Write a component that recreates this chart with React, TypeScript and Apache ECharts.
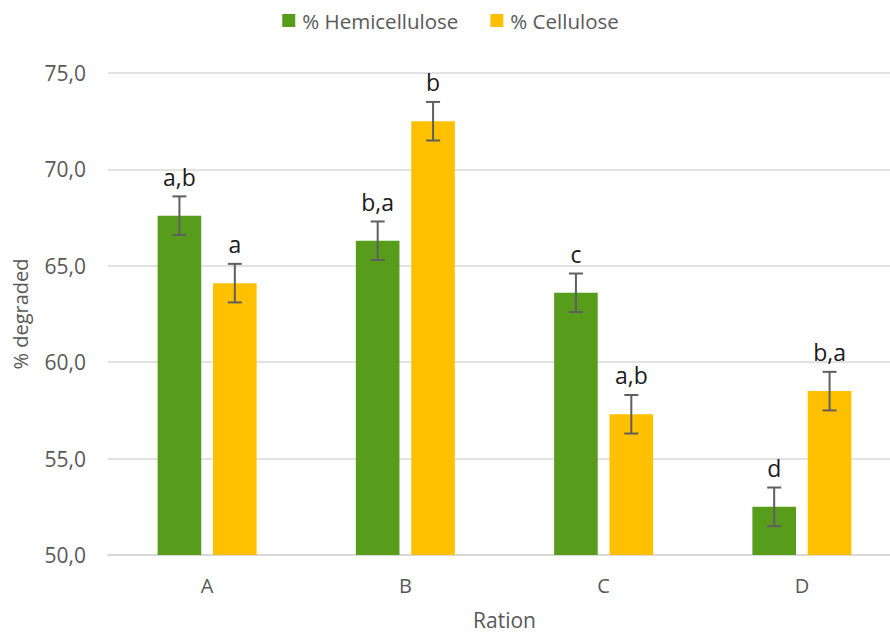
import React, { useEffect, useRef } from "react";
import * as echarts from "echarts";

const categories = ["A", "B", "C", "D"];
const hemicellulose = [67.6, 66.3, 63.6, 52.5];
const cellulose = [64.1, 72.5, 57.3, 58.5];
const hemiErr = [1.0, 1.0, 1.0, 1.0];
const cellErr = [1.0, 1.0, 1.0, 1.0];
const hemiLabels = ["a,b", "b,a", "c", "d"];
const cellLabels = ["a", "b", "a,b", "b,a"];
const seriesNames = ["% Hemicellulose", "% Cellulose"];

const GREEN = "#589c1c";
const YELLOW = "#ffc000";
const FONT = "'Open Sans', 'Noto Sans', sans-serif";
const BAR_FRAC = 0.22;
const GAP_FRAC = 0.27;

function errorSeries(values: number[], errs: number[], labels: string[], sign: number) {
  return {
    type: "custom",
    silent: true,
    z: 5,
    encode: { x: 0, y: 1 },
    data: values.map((v, i) => [i, v, errs[i]]),
    renderItem: (params: any, api: any) => {
      const xi = api.value(0);
      const v = api.value(1);
      const e = api.value(2);
      const band = api.size([1, 0])[0];
      const off = (sign * band * BAR_FRAC * (1 + GAP_FRAC)) / 2;
      const top = api.coord([xi, v + e]);
      const bot = api.coord([xi, v - e]);
      const cx = top[0] + off;
      const cap = 7;
      const ls = { stroke: "#5f5f5f", lineWidth: 2 };
      return {
        type: "group",
        children: [
          { type: "line", shape: { x1: cx, y1: top[1], x2: cx, y2: bot[1] }, style: ls },
          { type: "line", shape: { x1: cx - cap, y1: top[1], x2: cx + cap, y2: top[1] }, style: ls },
          { type: "line", shape: { x1: cx - cap, y1: bot[1], x2: cx + cap, y2: bot[1] }, style: ls },
          {
            type: "text",
            x: cx,
            y: top[1] - 8,
            style: {
              text: labels[params.dataIndex],
              textAlign: "center",
              textVerticalAlign: "bottom",
              fontSize: 23,
              fontFamily: FONT,
              fill: "#1a1a1a",
            },
          },
        ],
      };
    },
  };
}

export default function App() {
  const ref = useRef<HTMLDivElement>(null);
  useEffect(() => {
    if (!ref.current) return;
    const chart = echarts.init(ref.current, undefined, { renderer: "svg" });
    chart.setOption({
      animation: false,
      backgroundColor: "#ffffff",
      textStyle: { fontFamily: FONT },
      legend: {
        top: 5,
        left: "center",
        itemWidth: 13,
        itemHeight: 13,
        itemGap: 32,
        icon: "rect",
        textStyle: { fontSize: 20.5, color: "#595959", fontFamily: FONT, padding: [0, 0, 0, 2] },
        data: seriesNames,
      },
      grid: { left: 108, right: 0, top: 73, bottom: 82, containLabel: false, outerBoundsMode: "none" },
      xAxis: {
        type: "category",
        data: categories,
        axisLine: { lineStyle: { color: "#d9d9d9", width: 2 } },
        axisTick: { show: false },
        axisLabel: { color: "#595959", fontSize: 20, margin: 20, fontFamily: FONT },
        name: "Ration",
        nameLocation: "middle",
        nameGap: 54,
        nameTextStyle: { color: "#595959", fontSize: 21, fontFamily: FONT },
      },
      yAxis: {
        type: "value",
        min: 50,
        max: 75,
        interval: 5,
        axisLine: { show: false },
        axisTick: { show: false },
        splitLine: { lineStyle: { color: "#d9d9d9", width: 1.5 } },
        axisLabel: {
          color: "#595959",
          fontSize: 21,
          margin: 22,
          fontFamily: FONT,
          formatter: (v: number) => v.toFixed(1).replace(".", ","),
        },
        name: "% degraded",
        nameLocation: "middle",
        nameGap: 78,
        nameTextStyle: { color: "#595959", fontSize: 20, fontFamily: FONT },
      },
      series: [
        {
          name: seriesNames[0],
          type: "bar",
          data: hemicellulose,
          barWidth: "22%",
          barGap: "27%",
          itemStyle: { color: GREEN },
        },
        {
          name: seriesNames[1],
          type: "bar",
          data: cellulose,
          barWidth: "22%",
          barGap: "27%",
          itemStyle: { color: YELLOW },
        },
        errorSeries(hemicellulose, hemiErr, hemiLabels, -1),
        errorSeries(cellulose, cellErr, cellLabels, 1),
      ],
    });
    return () => chart.dispose();
  }, []);
  return (
    <div style={{ position: "absolute", left: 0, top: 0, width: 890, height: 637, overflow: "hidden", background: "#fff" }}>
      <div ref={ref} style={{ width: 901, height: 637 }} />
    </div>
  );
}
